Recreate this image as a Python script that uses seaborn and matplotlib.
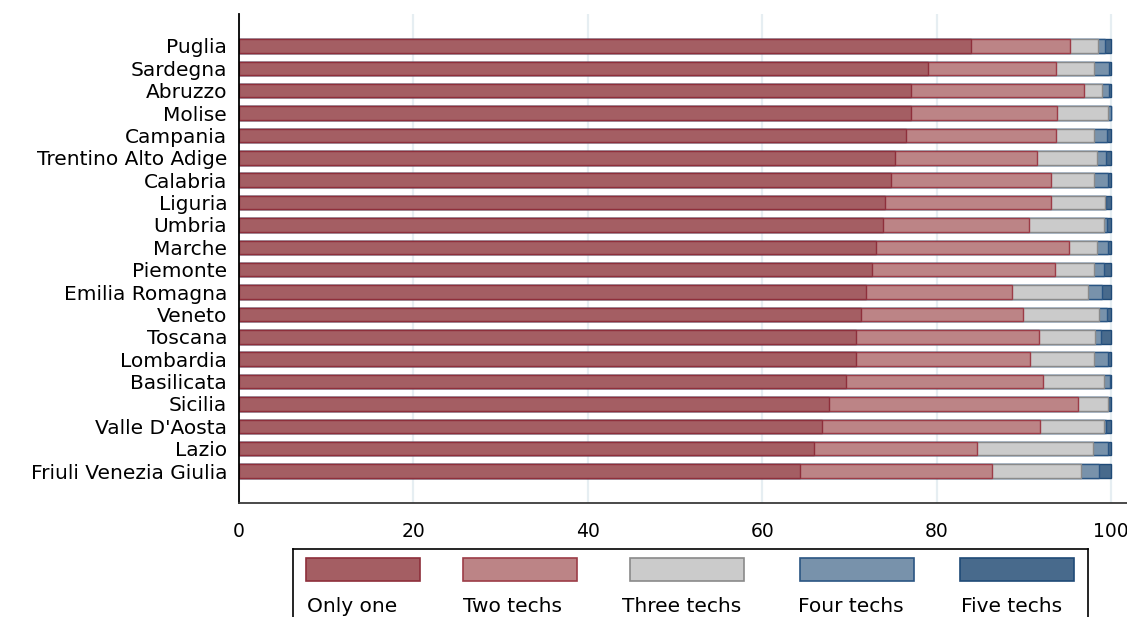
import matplotlib
matplotlib.use("Agg")
import matplotlib.pyplot as plt
from matplotlib.patches import Rectangle
import numpy as np
import pandas as pd
import seaborn as sns

# Share of firms by number of adopted technologies, per region (%)
regions = [
    "Puglia", "Sardegna", "Abruzzo", "Molise", "Campania",
    "Trentino Alto Adige", "Calabria", "Liguria", "Umbria", "Marche",
    "Piemonte", "Emilia Romagna", "Veneto", "Toscana", "Lombardia",
    "Basilicata", "Sicilia", "Valle D'Aosta", "Lazio", "Friuli Venezia Giulia",
]
only_one = [83.9, 79.0, 77.1, 77.1, 76.5, 75.2, 74.8, 74.1, 73.9, 73.0,
            72.6, 71.9, 71.3, 70.8, 70.7, 69.6, 67.7, 66.8, 65.9, 64.3]
two_techs = [11.4, 14.7, 19.8, 16.7, 17.2, 16.3, 18.3, 19.0, 16.7, 22.2,
             21.0, 16.7, 18.6, 20.9, 20.0, 22.6, 28.5, 25.1, 18.7, 22.1]
three_techs = [3.2, 4.4, 2.1, 5.9, 4.4, 6.9, 5.0, 6.2, 8.6, 3.2,
               4.4, 8.8, 8.7, 6.5, 7.3, 7.0, 3.4, 7.3, 13.3, 10.2]
four_techs = [0.8, 1.7, 0.8, 0.3, 1.4, 1.0, 1.5, 0.1, 0.3, 1.3,
              1.2, 1.6, 0.9, 0.7, 1.6, 0.7, 0.0, 0.2, 1.7, 2.0]
five_techs = [0.7, 0.2, 0.2, 0.0, 0.5, 0.6, 0.4, 0.6, 0.5, 0.3,
              0.8, 1.0, 0.5, 1.1, 0.4, 0.1, 0.4, 0.6, 0.4, 1.4]

series_names = ["Only one", "Two techs", "Three techs", "Four techs", "Five techs"]
fills = ["#a45e63", "#bc8486", "#cbcbcb", "#7892ab", "#486a8c"]
edges = ["#8e2f3b", "#9c3c47", "#8a8a8a", "#2a5583", "#1f4a77"]

df = pd.DataFrame({
    "region": regions,
    "Only one": only_one,
    "Two techs": two_techs,
    "Three techs": three_techs,
    "Four techs": four_techs,
    "Five techs": five_techs,
})
cum = df[series_names].cumsum(axis=1)
cum.columns = ["cum_" + c for c in series_names]
df = pd.concat([df, cum], axis=1)

sns.set_style("white")
plt.rcParams["font.family"] = ["DejaVu Sans"]

W, H = 1127, 617
fig = plt.figure(figsize=(W / 100, H / 100), dpi=100)
ax = fig.add_axes([239 / W, 1 - 503 / H, (W - 239) / W, (503 - 14) / H])

# Stacked bars: draw cumulative totals from the longest to the shortest
for name, fc, ec in reversed(list(zip(series_names, fills, edges))):
    sns.barplot(data=df, x="cum_" + name, y="region", order=regions,
                orient="h", color=fc, saturation=1, width=0.6,
                edgecolor=ec, linewidth=1.0, errorbar=None, ax=ax)

ax.set_xlim(0, 101.83)
ax.set_ylim(20.43, -1.43)
ax.set_xticks([0, 20, 40, 60, 80, 100])
ax.set_xlabel("")
ax.set_ylabel("")
ax.set_axisbelow(True)
ax.grid(axis="x", color="#e6eef2", linewidth=1.6)
ax.grid(axis="y", visible=False)

for side in ("top", "right"):
    ax.spines[side].set_visible(False)
ax.spines["left"].set_color("black")
ax.spines["left"].set_linewidth(1.3)
ax.spines["bottom"].set_color("#3a3a3a")
ax.spines["bottom"].set_linewidth(1.3)

ax.tick_params(axis="x", length=6.5, width=1.2, color="#3a3a3a",
               pad=7, labelsize=13.5, labelcolor="black")
ax.tick_params(axis="y", length=0, pad=8.5, labelsize=14.5, labelcolor="black")

# Legend panel below the plot: keys above their labels
leg_bottom = -0.05
lax = fig.add_axes([293 / W, leg_bottom, (1088 - 293) / W, (H - 549) / H - leg_bottom])
lax.set_xlim(293, 1088)
lax.set_ylim(H - leg_bottom * H, 549)
lax.set_xticks([])
lax.set_yticks([])
for s in lax.spines.values():
    s.set_color("black")
    s.set_linewidth(1.2)

key_left = [306, 463, 630, 800, 960]
text_left = [307, 463, 622, 798, 961]
for name, fc, ec, kx, tx in zip(series_names, fills, edges, key_left, text_left):
    lax.add_patch(Rectangle((kx, 558.5), 114, 23, facecolor=fc,
                            edgecolor=ec, linewidth=1.2))
    lax.text(tx, 612.5, name, ha="left", va="baseline", fontsize=14.5,
             color="black")

fig.savefig("out.png", dpi=100)
